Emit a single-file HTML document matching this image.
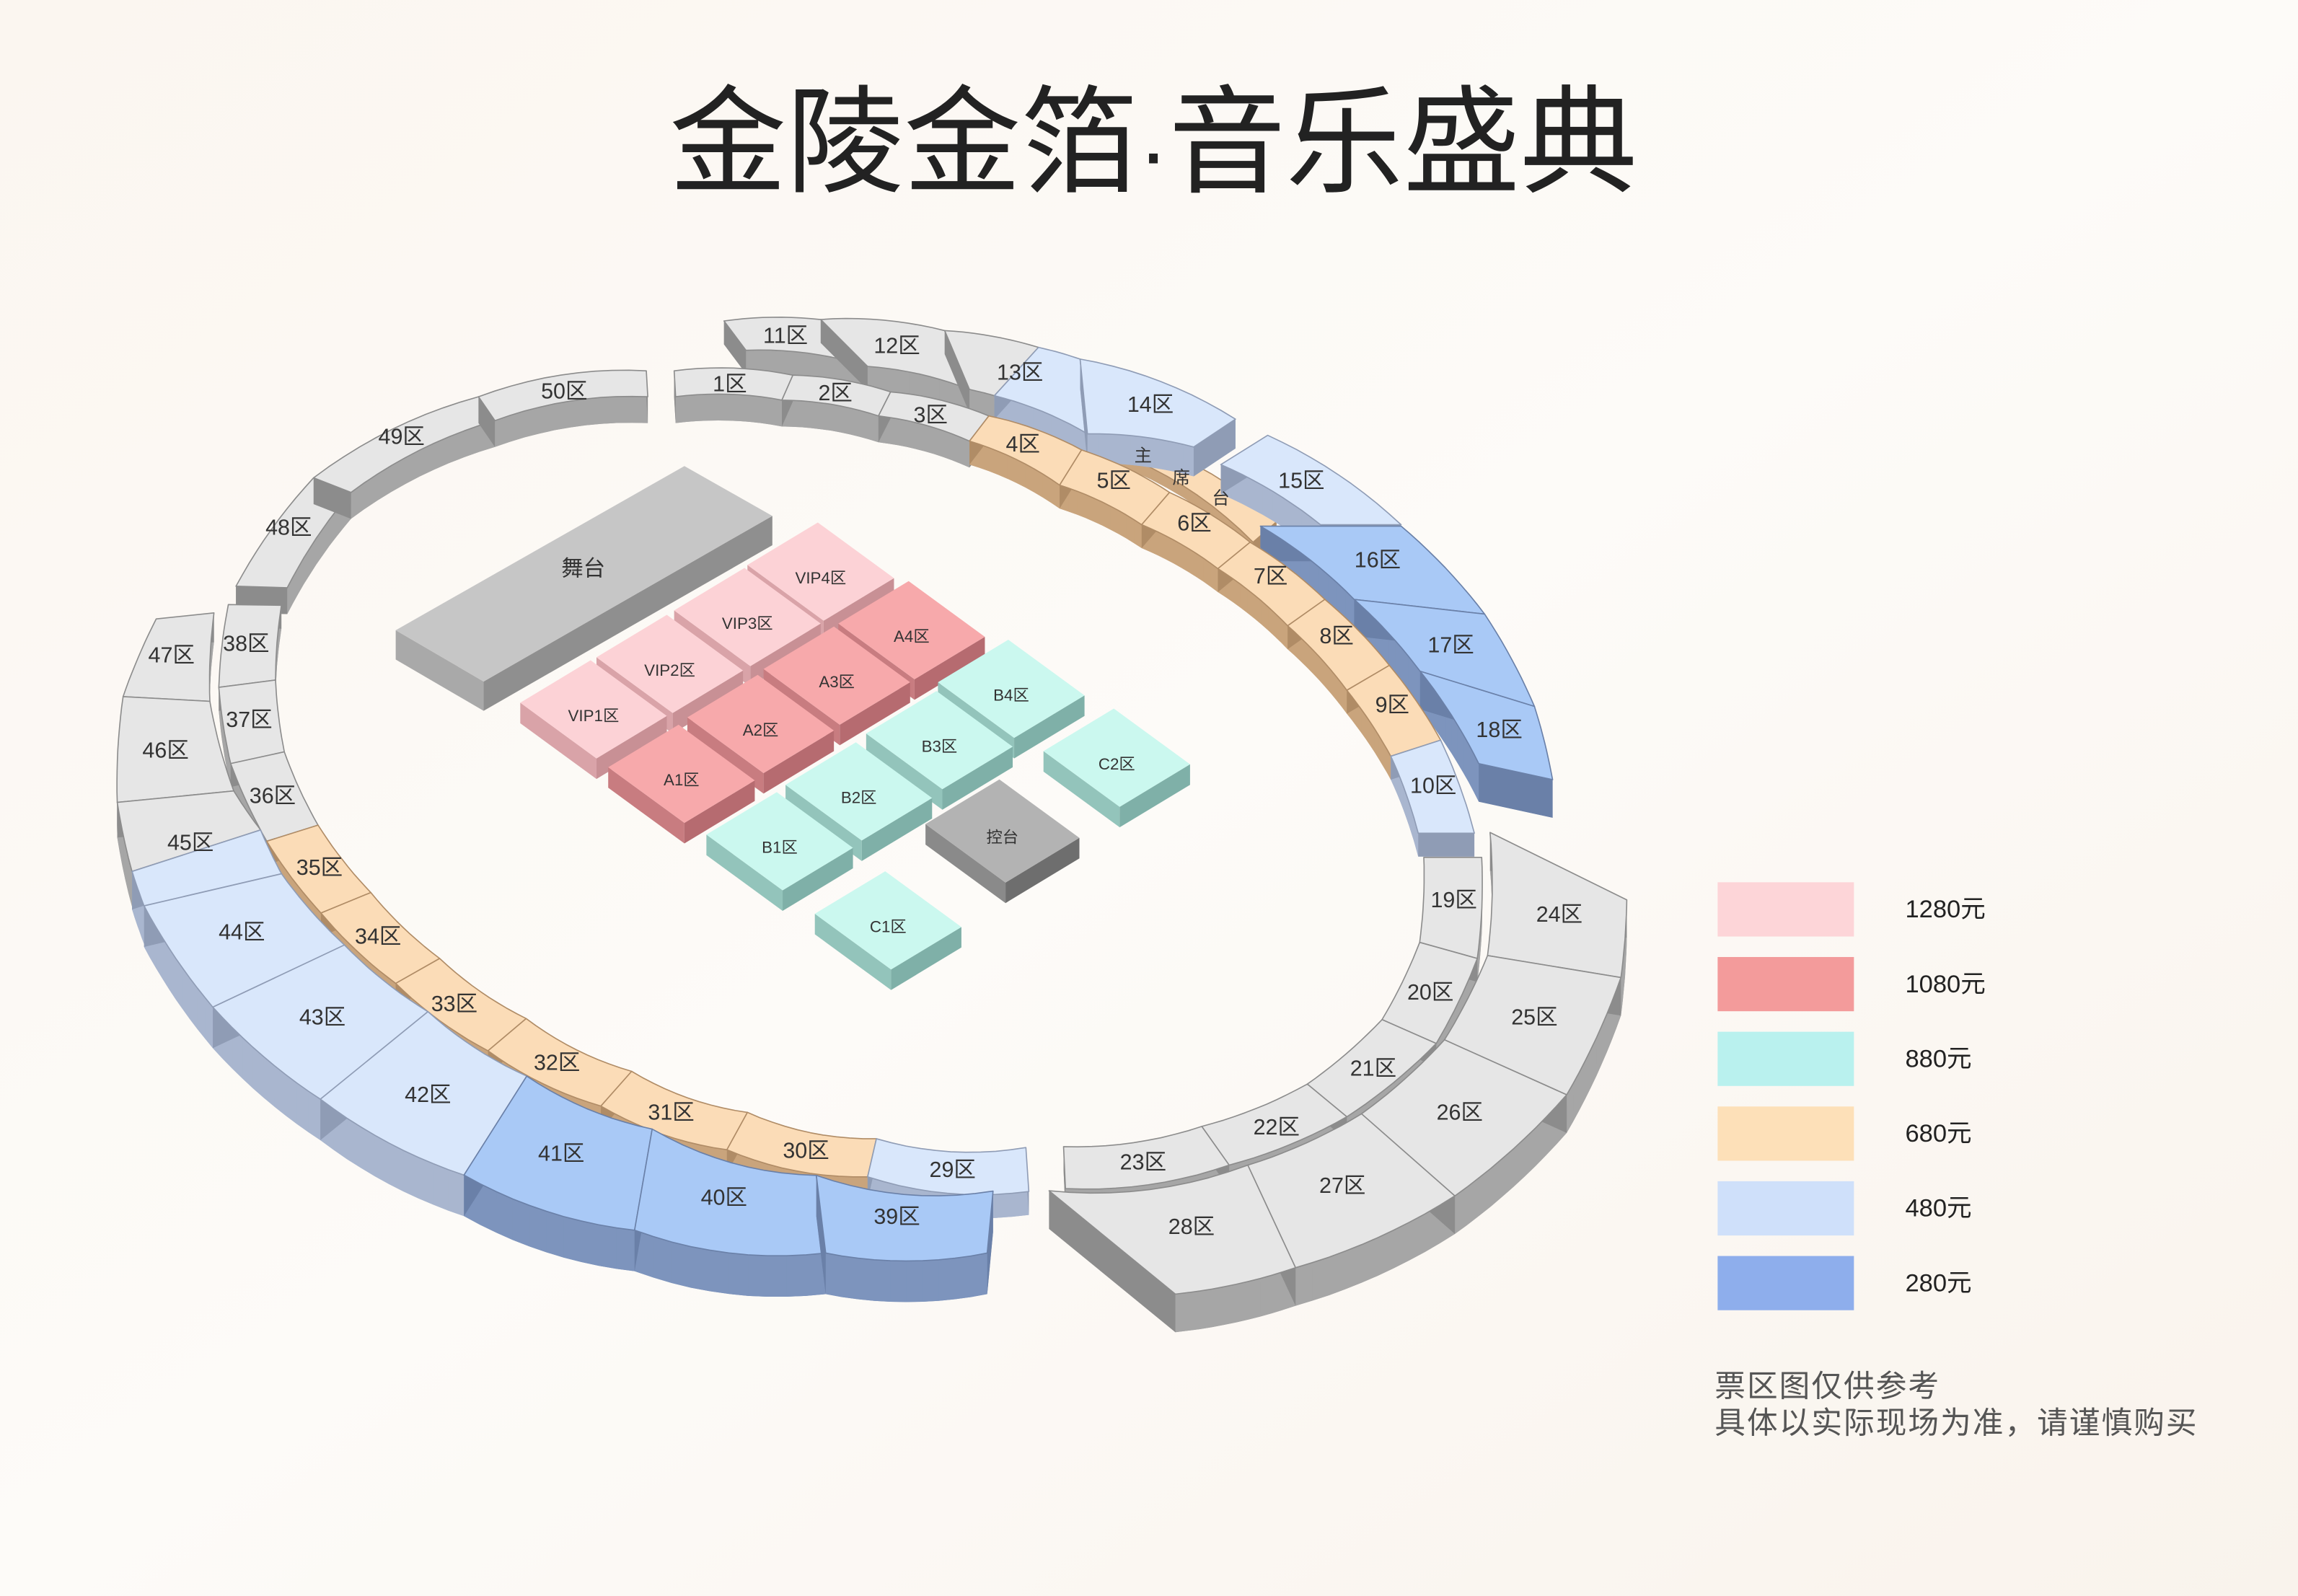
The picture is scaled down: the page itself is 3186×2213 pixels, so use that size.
<!DOCTYPE html>
<html><head><meta charset="utf-8">
<style>
html,body{margin:0;padding:0;width:3186px;height:2213px;overflow:hidden;background:#fcf9f5;}
svg{display:block;}
text{font-family:"Liberation Sans","Noto Sans CJK SC",sans-serif;}
</style></head><body>
<svg id="s" width="3186" height="2213" viewBox="0 0 1568 1089" preserveAspectRatio="none" xmlns="http://www.w3.org/2000/svg">
<defs>
<linearGradient id="bg" x1="0" y1="0" x2="1" y2="1">
<stop offset="0" stop-color="#fbf6f0"/><stop offset="0.5" stop-color="#fdfbf8"/><stop offset="1" stop-color="#f9f3ec"/>
</linearGradient>
</defs>
<rect width="1568" height="1089" fill="url(#bg)"/>
<text x="787" y="125" text-anchor="middle" font-size="80" fill="#222" style="font-family:'Noto Sans CJK SC',sans-serif;font-weight:400">金陵金箔<tspan style="font-family:'Liberation Sans',sans-serif" font-size="62">·</tspan>音乐盛典</text>
<g id="shapes"></g>
<g font-size="15" fill="#333" text-anchor="middle">
<text x="498" y="267">1区</text><text x="570" y="273">2区</text><text x="635" y="288">3区</text>
<text x="698" y="308">4区</text><text x="760" y="333">5区</text><text x="815" y="362">6区</text>
<text x="867" y="398">7区</text><text x="912" y="439">8区</text><text x="950" y="486">9区</text>
<text x="978" y="541">10区</text><text x="536" y="234">11区</text><text x="612" y="241">12区</text>
<text x="696" y="259">13区</text><text x="785" y="281">14区</text><text x="888" y="333">15区</text>
<text x="940" y="387">16区</text><text x="990" y="445">17区</text><text x="1023" y="503">18区</text>
<text x="992" y="619">19区</text><text x="976" y="682">20区</text><text x="937" y="734">21区</text>
<text x="871" y="774">22区</text><text x="780" y="798">23区</text><text x="1064" y="629">24区</text>
<text x="1047" y="699">25区</text><text x="996" y="764">26区</text><text x="916" y="814">27区</text>
<text x="813" y="842">28区</text><text x="650" y="803">29区</text><text x="550" y="790">30区</text>
<text x="458" y="764">31区</text><text x="380" y="730">32区</text><text x="310" y="690">33区</text>
<text x="258" y="644">34区</text><text x="218" y="597">35区</text><text x="186" y="548">36区</text>
<text x="170" y="496">37区</text><text x="168" y="444">38区</text><text x="612" y="835">39区</text>
<text x="494" y="822">40区</text><text x="383" y="792">41区</text><text x="292" y="752">42区</text>
<text x="220" y="699">43区</text><text x="165" y="641">44区</text><text x="130" y="580">45区</text>
<text x="113" y="517">46区</text><text x="117" y="452">47区</text><text x="197" y="365">48区</text>
<text x="274" y="303">49区</text><text x="385" y="272">50区</text>
<text x="780" y="315" font-size="12">主</text><text x="806" y="330" font-size="12">席</text><text x="833" y="344" font-size="12">台</text>
</g>
<g font-size="11" fill="#333" text-anchor="middle">
<text x="398" y="393" font-size="15">舞台</text>
<text x="405" y="492">VIP1区</text><text x="457" y="461">VIP2区</text><text x="510" y="429">VIP3区</text><text x="560" y="398">VIP4区</text>
<text x="465" y="536">A1区</text><text x="519" y="502">A2区</text><text x="571" y="469">A3区</text><text x="622" y="438">A4区</text>
<text x="532" y="582">B1区</text><text x="586" y="548">B2区</text><text x="641" y="513">B3区</text><text x="690" y="478">B4区</text>
<text x="606" y="636">C1区</text><text x="762" y="525">C2区</text><text x="684" y="575">控台</text>
</g>
<g>
<rect x="1172" y="602" width="93" height="37" fill="#fdd5d8"/>
<rect x="1172" y="653" width="93" height="37" fill="#f39b9b"/>
<rect x="1172" y="704" width="93" height="37" fill="#b9f1ee"/>
<rect x="1172" y="755" width="93" height="37" fill="#fde0b8"/>
<rect x="1172" y="806" width="93" height="37" fill="#cfe0fa"/>
<rect x="1172" y="857" width="93" height="37" fill="#8eaeec"/>
</g>
<g font-size="17" fill="#222">
<text x="1300" y="626">1280元</text><text x="1300" y="677">1080元</text><text x="1300" y="728">880元</text>
<text x="1300" y="779">680元</text><text x="1300" y="830">480元</text><text x="1300" y="881">280元</text>
</g>
<g font-size="21" fill="#555" letter-spacing="1" style="font-family:'Noto Sans CJK SC',sans-serif">
<text x="1170" y="953">票区图仅供参考</text>
<text x="1170" y="978">具体以实际现场为准，请谨慎购买</text>
</g>
</svg>
<script>
(function(){
var NS="http://www.w3.org/2000/svg";
var g=document.getElementById("shapes");
function poly(pts,fill,stroke){var p=document.createElementNS(NS,"polygon");
p.setAttribute("points",pts.map(function(a){return a[0].toFixed(1)+","+a[1].toFixed(1)}).join(" "));
p.setAttribute("fill",fill);if(stroke){p.setAttribute("stroke",stroke);p.setAttribute("stroke-width","0.8");p.setAttribute("stroke-linejoin","round");}
g.appendChild(p);}
var C=[575,530];
var COL={G:["#e6e6e6","#a6a6a6","#8c8c8c"],L:["#d9e7fb","#a9b6cf","#8f9cb5"],B:["#a9c9f6","#7d94bd","#6a80a8"],O:["#fbdcb7","#c9a47c","#b08c66"]};
function curve(P,Q,n){
  var M=[(P[0]+Q[0])/2,(P[1]+Q[1])/2],dx=Q[0]-P[0],dy=Q[1]-P[1],L=Math.hypot(dx,dy);
  var nx=-dy/L,ny=dx/L; if(nx*(M[0]-C[0])+ny*(M[1]-C[1])<0){nx=-nx;ny=-ny;}
  var R=Math.hypot(M[0]-C[0],M[1]-C[1])*0.85; var s=L*L/(8*R);
  var K=[M[0]+nx*2*s,M[1]+ny*2*s],out=[];
  for(var i=0;i<=n;i++){var t=i/n,u=1-t;out.push([u*u*P[0]+2*u*t*K[0]+t*t*Q[0],u*u*P[1]+2*u*t*K[1]+t*t*Q[1]]);}
  return out;}
function sec(a0,a1,b1,b0,col,h){
  var c=COL[col],n=10;
  var A=curve(a0,a1,n),B=curve(b1,b0,n);
  var top=A.concat(B);
  var sh=function(p){return [p[0],p[1]+h];};
  poly(top.map(sh),c[1]);
  for(var i=0;i<n;i++){poly([A[i],A[i+1],sh(A[i+1]),sh(A[i])],c[1]);poly([B[i],B[i+1],sh(B[i+1]),sh(B[i])],c[1]);}
  poly([a0,b0,sh(b0),sh(a0)],c[2]);poly([a1,b1,sh(b1),sh(a1)],c[2]);
  poly(top,c[0],c[2]);
}
var OT=[
[[494,219],[560,218],[592,250],[509,239],"G",16],
[[560,218],[644.6,225.6],[661.5,265.7],[592,250],"G",16],
[[644.6,225.6],[708.6,237],[678.5,270],[661.5,265.7],"G",16],
[[708.6,237],[737,245],[742,296],[678.5,270],"L",16],
[[737,245],[843,286],[814.5,305],[742,296],"L",20],
[[865,297],[956,358],[901,358],[833,317],"L",20],
[[956,359],[1013,419],[924,409],[860,359],"B",24],
[[1013,419],[1047,482],[969,458],[924,409],"B",25],
[[1047,482],[1059.4,532],[1009,521],[969,458],"B",26]
];
OT.slice(0,4).forEach(function(s){sec(s[0],s[1],s[2],s[3],s[4],s[5]);});
sec([750,293],[871,356],[855,370],[751,305],"O",8);
OT.slice(4).forEach(function(s){sec(s[0],s[1],s[2],s[3],s[4],s[5]);});
var IN=[
[[161,400],[214,326],[239.5,336],[196,401],"G",18],
[[214,326],[326.5,270.7],[337.7,287],[239.5,336],"G",18],
[[326.5,270.7],[441,253],[442,270.7],[337.7,287],"G",18],
[[460,253],[541,256],[533.5,273],[461,270.7],"G",18],
[[541,256],[607.7,267.4],[599.4,283.8],[533.5,273],"G",18],
[[607.7,267.4],[674.7,283.8],[661.5,301],[599.4,283.8],"G",18],
[[674.7,283.8],[738,307],[723,331],[661.5,301],"O"],
[[738,307],[798,336],[779,358],[723,331],"O"],
[[798,336],[853,370],[831,388],[779,358],"O"],
[[853,370],[904,409],[878.6,427],[831,388],"O"],
[[904,409],[948,454],[919,471],[878.6,427],"O"],
[[948,454],[983,505],[949,516],[919,471],"O"],
[[983,505],[1006,568.5],[967.7,568.5],[949,516],"L"],
[[155.8,412.5],[149.3,469],[188,464],[192,413],"G"],
[[149.3,469],[157.4,521],[194,513],[188,464],"G"],
[[157.4,521],[182,574],[217,563],[194,513],"G"],
[[182,574],[219,623],[253,609],[217,563],"O"],
[[219,623],[270,671],[300,654],[253,609],"O"],
[[270,671],[333,717],[359,695],[300,654],"O"],
[[333,717],[410,754.7],[431,731],[359,695],"O"],
[[410,754.7],[496,784.5],[510,759],[431,731],"O"],
[[496,784.5],[592,803],[598,777],[510,759],"O"],
[[592,803],[702,813],[700,783],[598,777],"L"],
[[1011,585],[1008,654],[968.7,643],[971.5,585],"G"],
[[1008,654],[980,712],[943,695.7],[968.7,643],"G"],
[[980,712],[919,762],[892,739.7],[943,695.7],"G"],
[[919,762],[838.7,795],[820,768.6],[892,739.7],"G"],
[[838.7,795],[727,811],[725.7,782.4],[820,768.6],"G"]
];
IN.forEach(function(s){sec(s[0],s[1],s[2],s[3],s[4],s[5]||16);});
var OB=[
[[106.6,422.3],[84,475.3],[143.2,478.5],[146,418.2],"G",20],
[[84,475.3],[80,547.5],[159.5,539.7],[143.2,478.5],"G",22],
[[80,547.5],[90.1,594.6],[177.8,566.3],[159.5,539.7],"G",24],
[[90.1,594.6],[98.3,618.1],[192.1,596.2],[177.8,566.3],"L",26],
[[98.3,618.1],[145.2,687.2],[235,644.8],[192.1,596.2],"L",28],
[[145.2,687.2],[218.6,750],[292,690.3],[235,644.8],"L",28],
[[218.6,750],[316.6,801.8],[359.4,734.3],[292,690.3],"L",28],
[[316.6,801.8],[433,839.4],[445,770.4],[359.4,734.3],"B",28],
[[433,839.4],[563.4,855],[557,802],[445,770.4],"B",28],
[[563.4,855],[673.6,855],[677.6,812.7],[557,802],"B",28],
[[1110,614],[1106,667],[1015,652],[1016.7,568],"G",26],
[[1106,667],[1069,747],[985.6,709.5],[1015,652],"G",26],
[[1069,747],[992.7,816],[929,760],[985.6,709.5],"G",26],
[[992.7,816],[884,865],[851.4,795],[929,760],"G",26],
[[884,865],[802,883],[715.8,812.5],[851.4,795],"G",26]
];
OB.forEach(function(s){sec(s[0],s[1],s[2],s[3],s[4],s[5]);});
poly([[270,430],[330,465],[330,485],[270,450]],"#a9a9a9");
poly([[330,465],[527,352],[527,372],[330,485]],"#8f8f8f");
poly([[270,430],[467,318],[527,352],[330,465]],"#c6c6c6");
function tile(cx,cy,t,l,r,sc){sc=sc||1;var hux=24*sc,huy=-14.5*sc,hvx=26*sc,hvy=19*sc,h=14;
var L=[cx-hux-hvx,cy-huy-hvy],T=[cx+hux-hvx,cy+huy-hvy],R=[cx+hux+hvx,cy+huy+hvy],B=[cx-hux+hvx,cy-huy+hvy];
poly([L,B,[B[0],B[1]+h],[L[0],L[1]+h]],l);
poly([B,R,[R[0],R[1]+h],[B[0],B[1]+h]],r);
poly([L,T,R,B],t);}
var P=["#fcd2d6","#d9a3a8","#c89095"],A=["#f7a9ab","#c87c80","#b66b70"],Q=["#cbf8ef","#93c4bb","#7fb0a8"],K=["#b3b3b3","#8a8a8a","#6e6e6e"];
[[560,394],[510,425],[457,457],[405,488]].forEach(function(p){tile(p[0],p[1]-4,P[0],P[1],P[2]);});
[[622,434],[571,465],[519,498],[465,532]].forEach(function(p){tile(p[0],p[1]-4,A[0],A[1],A[2]);});
[[762,521],[690,474],[641,509],[586,544],[532,578],[606,632]].forEach(function(p){tile(p[0],p[1]-4,Q[0],Q[1],Q[2]);});
tile(684,567,K[0],K[1],K[2],1.05);
})();
</script>
</body></html>
